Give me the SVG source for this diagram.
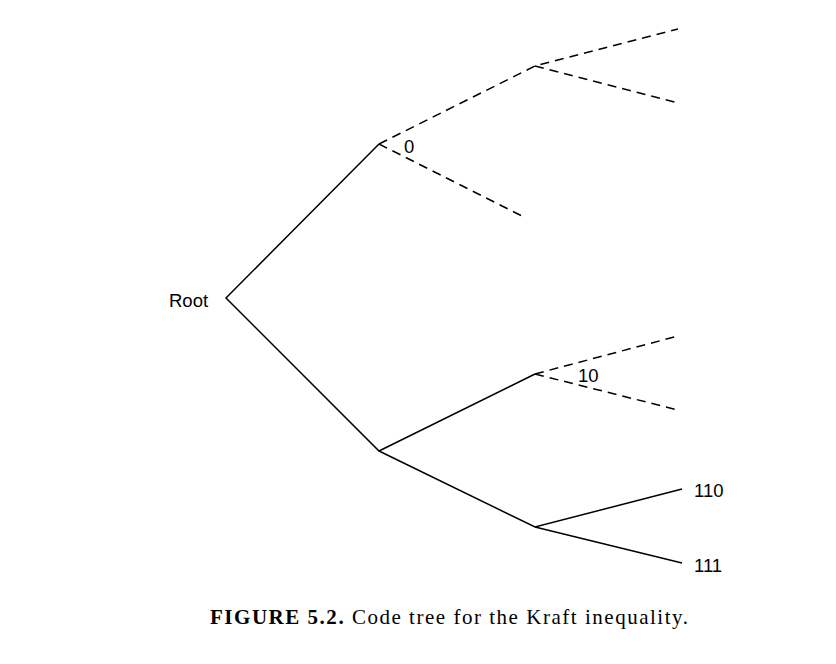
<svg xmlns="http://www.w3.org/2000/svg" width="836" height="664" viewBox="0 0 836 664">
<style>
.s{stroke:#000;stroke-width:1.5;fill:none}
.d{stroke:#000;stroke-width:1.5;fill:none;stroke-dasharray:9,6}
text{font-family:"Liberation Sans",Arial,sans-serif;font-size:18.5px;fill:#000}
.cap{font-family:"Liberation Serif","Times New Roman",serif;font-size:21px}
</style>
<rect width="836" height="664" fill="#fff"/>
<g id="connectors">
<path class="s" d="M379,144 L226,298 L379,451 L535,374 M379,451 L535,527 L682,489 M535,527 L682,563"/>
<path class="d" d="M379,144 L535,66 L678,29 M535,66 L678,103 M379,144 L522,216 M535,374 L678,336 M535,374 L678,410"/>
</g>
<g id="root"><text x="169" y="307">Root</text></g>
<g id="n0"><text x="404" y="153">0</text></g>
<g id="n10"><text x="578" y="382">10</text></g>
<g id="n110"><text x="694" y="497">110</text></g>
<g id="n111"><text x="694" y="572">111</text></g>
<g id="caption"><text class="cap" x="210" y="624" textLength="478" lengthAdjust="spacing"><tspan font-weight="bold">FIGURE 5.2.</tspan> Code tree for the Kraft inequality.</text></g>
</svg>
